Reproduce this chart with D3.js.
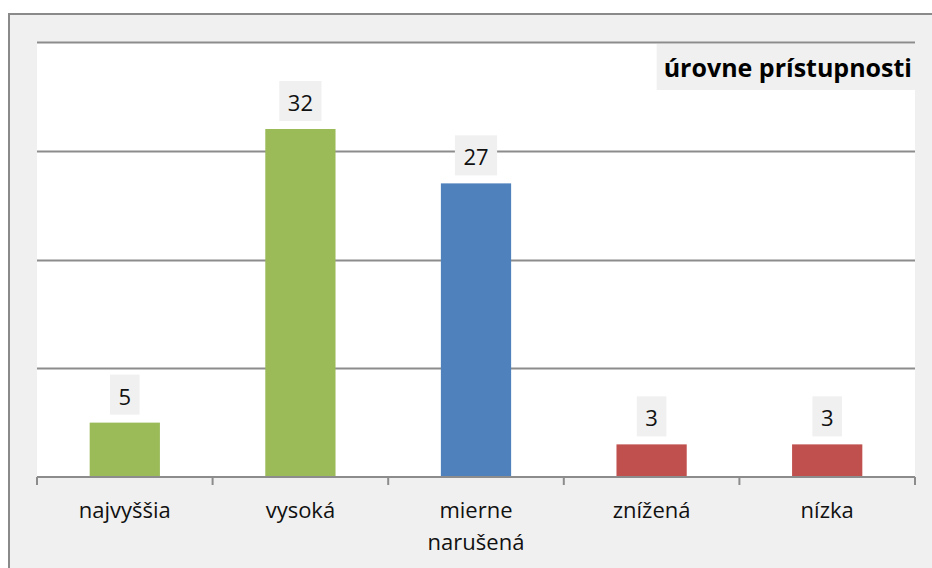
<!DOCTYPE html>
<html><head><meta charset="utf-8">
<script src="https://cdn.jsdelivr.net/npm/d3@7"></script>
<style>
html,body{margin:0;padding:0;background:#fff;}
svg{display:block;font-family:"Open Sans",sans-serif;}
</style></head>
<body><svg id="c" width="932" height="568"></svg>
<script>
const categories = [["najvyššia"], ["vysoká"], ["mierne", "narušená"], ["znížená"], ["nízka"]];
const values = [5, 32, 27, 3, 3];
const barColors = ["#9BBB59", "#9BBB59", "#4F81BD", "#C0504D", "#C0504D"];
const yTicks = [0, 10, 20, 30, 40];
const title = "úrovne prístupnosti";

const svg = d3.select("#c");
// outer chart frame
svg.append("rect").attr("x", 9).attr("y", 14).attr("width", 940).attr("height", 600)
  .attr("fill", "#f0f0f0").attr("stroke", "#8a8a8a").attr("stroke-width", 2);

const plot = {left: 37, right: 915, top: 42, bottom: 477};
svg.append("rect").attr("x", plot.left).attr("y", plot.top)
  .attr("width", plot.right - plot.left).attr("height", plot.bottom - plot.top).attr("fill", "#fff");

const x = d3.scaleBand().domain(d3.range(values.length)).range([plot.left, plot.right]).paddingInner(0.6).paddingOuter(0.3);
const xb = d3.scaleBand().domain(d3.range(values.length)).range([plot.left, plot.right]);
const y = d3.scaleLinear().domain([0, 40]).range([plot.bottom, plot.top]);

// gridlines
svg.append("g").selectAll("line").data(yTicks.slice(1)).join("line")
  .attr("x1", plot.left).attr("x2", plot.right)
  .attr("y1", d => Math.round(y(d)) + 0.5).attr("y2", d => Math.round(y(d)) + 0.5)
  .attr("stroke", "#8c8c8c").attr("stroke-width", 2);

// bars
svg.append("g").selectAll("rect").data(values).join("rect")
  .attr("x", (d, i) => x(i)).attr("width", x.bandwidth())
  .attr("y", d => y(d)).attr("height", d => plot.bottom - y(d))
  .attr("fill", (d, i) => barColors[i]);

// x axis
const axisG = svg.append("g").attr("transform", `translate(0,${plot.bottom})`);
axisG.append("line").attr("x1", plot.left).attr("x2", plot.right).attr("y1", 0).attr("y2", 0)
  .attr("stroke", "#8c8c8c").attr("stroke-width", 2);
const tickPos = d3.range(values.length + 1).map(i => i < values.length ? xb(i) : plot.right);
axisG.selectAll("line.t").data(tickPos).join("line").attr("class", "t")
  .attr("x1", d => d).attr("x2", d => d).attr("y1", 0).attr("y2", 8)
  .attr("stroke", "#8c8c8c").attr("stroke-width", 2);

// category labels
const catG = svg.append("g");
categories.forEach((lines, i) => {
  const t = catG.append("text").attr("x", xb(i) + xb.bandwidth() / 2).attr("y", 518)
    .attr("text-anchor", "middle").attr("font-size", 22).attr("fill", "#111");
  lines.forEach((l, j) => t.append("tspan").attr("x", xb(i) + xb.bandwidth() / 2).attr("dy", j ? 32 : 0).text(l));
});

// value labels with boxes
const lab = svg.append("g");
values.forEach((v, i) => {
  const cx = x(i) + x.bandwidth() / 2;
  const g = lab.append("g");
  const txt = g.append("text").attr("x", cx).attr("y", y(v) - 18).attr("text-anchor", "middle")
    .attr("font-size", 22).attr("fill", "#111").text(v);
  const w = txt.node().getComputedTextLength() + 17;
  g.insert("rect", "text").attr("x", cx - w / 2).attr("y", y(v) - 48).attr("width", w).attr("height", 40)
    .attr("fill", "#f0f0f0");
});

// title box
const tg = svg.append("g");
const tt = tg.append("text").attr("x", 912).attr("y", 77).attr("text-anchor", "end")
  .attr("font-size", 25).attr("font-weight", "bold").attr("fill", "#000").text(title);
const tw = tt.node().getComputedTextLength();
const bx = 912 - tw - 7;
tg.insert("rect", "text").attr("x", bx).attr("y", 44).attr("width", 915 - bx).attr("height", 46).attr("fill", "#f0f0f0");
</script></body></html>
